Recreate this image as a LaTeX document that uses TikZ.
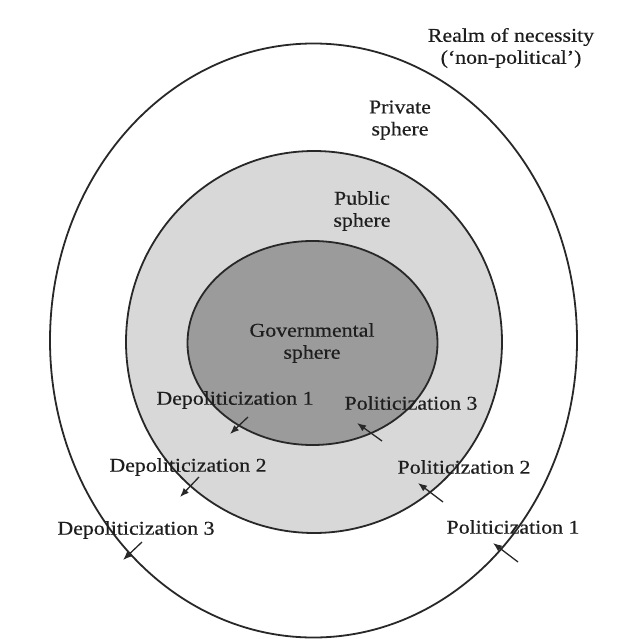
\documentclass[tikz,border=0pt]{standalone}
\usepackage{fontspec}
\setmainfont{Liberation Serif}[FakeStretch=1.12,FakeBold=0.5]
\usetikzlibrary{arrows.meta}
\definecolor{linec}{RGB}{40,40,40}
\definecolor{textc}{RGB}{30,30,30}
\definecolor{govfill}{RGB}{155,155,155}
\definecolor{pubfill}{RGB}{216,216,216}
\tikzset{
  lbl/.style={text=textc, font=\fontsize{19.5}{22}\selectfont, align=center, inner sep=0pt, anchor=center},
  ring/.style={draw=linec, line width=1.8pt},
  flow/.style={draw=linec, line width=1.3pt, -{Latex[length=9pt,width=7pt]}}
}
\begin{document}
\begin{tikzpicture}[x=1pt,y=-1pt]
\useasboundingbox (0,0) rectangle (623,639);
\fill[white] (0,0) rectangle (623,639);
% spheres
\path[ring, fill=white] (313.5,340.5) ellipse [x radius=263.5pt, y radius=297pt];
\path[ring, fill=pubfill] (314,342) ellipse [x radius=188pt, y radius=191pt];
\path[ring, fill=govfill] (312.5,343) ellipse [x radius=125pt, y radius=102pt];
% labels
\node[lbl] (realm) at (511,48) {Realm of necessity\\(‘non-political’)};
\node[lbl] (priv) at (400,120) {Private\\sphere};
\node[lbl] (pub) at (362,211) {Public\\sphere};
\node[lbl] (gov) at (312,343) {Governmental\\sphere};
\node[lbl] (d1) at (235,400) {Depoliticization 1};
\node[lbl] (d2) at (188,467) {Depoliticization 2};
\node[lbl] (d3) at (136,530) {Depoliticization 3};
\node[lbl] (p3) at (411,403) {Politicization 3};
\node[lbl] (p2) at (464,467) {Politicization 2};
\node[lbl] (p1) at (513,527) {Politicization 1};
% arrow coordinates
\coordinate (d1s) at (248,417); \coordinate (d1e) at (230,434);
\coordinate (d2s) at (199,477); \coordinate (d2e) at (180,497);
\coordinate (d3s) at (142,542); \coordinate (d3e) at (123,560);
\coordinate (p3s) at (382,441); \coordinate (p3e) at (357,423);
\coordinate (p2s) at (443,502); \coordinate (p2e) at (418,483);
\coordinate (p1s) at (518,562); \coordinate (p1e) at (493,543);
\draw[flow] (d1s) -- (d1e);
\draw[flow] (d2s) -- (d2e);
\draw[flow] (d3s) -- (d3e);
\draw[flow] (p3s) -- (p3e);
\draw[flow] (p2s) -- (p2e);
\draw[flow] (p1s) -- (p1e);
\end{tikzpicture}
\end{document}
